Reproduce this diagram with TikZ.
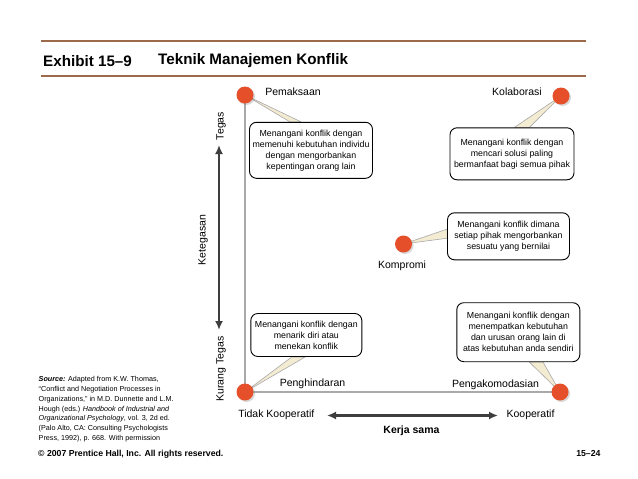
\documentclass[tikz,border=0pt]{standalone}
\usepackage{fontspec}
\setmainfont{Liberation Sans}
\usetikzlibrary{arrows.meta, shadows, calc, backgrounds}
\definecolor{rule-brown}{HTML}{9C6A48}
\definecolor{dot-red}{HTML}{E5502B}
\definecolor{axis-gray}{HTML}{A9A9A9}
\definecolor{arrow-dark}{HTML}{3E3E3E}
\definecolor{wedge-beige}{HTML}{F3EBD2}

\begin{document}
\begin{tikzpicture}[
    x=1pt, y=-1pt,
    dot/.style={circle, fill=dot-red, minimum size=17pt, inner sep=0pt, drop shadow={opacity=0.3, shadow xshift=1.5pt, shadow yshift=-1.5pt}},
    callout/.style={draw, line width=0.9pt, fill=white, rounded corners=7pt, align=center, inner sep=1pt, font=\fontsize{8.8}{11}\selectfont},
    lbl/.style={inner sep=1pt, font=\fontsize{10.5}{12}\selectfont},
    wedge/.style={fill=wedge-beige, draw=axis-gray, line width=0.6pt, line join=round},
    axisline/.style={draw=axis-gray, line width=2.2pt},
    scale-arrow/.style={{Latex[length=9pt, width=8pt]}-{Latex[length=9pt, width=8pt]}, line width=2.4pt, arrow-dark}
]
    \useasboundingbox (0,0) rectangle (638,479);

    % title
    \draw[rule-brown, line width=1.6pt] (41,40.8) -- (586,40.8);
    \draw[rule-brown, line width=1.6pt] (41,75.7) -- (586,75.7);
    \node[anchor=west, inner sep=0pt, font=\fontsize{15.2}{18}\selectfont\bfseries] (exhibit) at (43,61) {Exhibit 15–9};
    \node[anchor=west, inner sep=0pt, font=\fontsize{15.2}{18}\selectfont\bfseries] (judul) at (158,61) {Teknik Manajemen Konflik};

    % styles of conflict
    \node[dot] (paksa) at (245,95) {};
    \node[dot] (kolab) at (561,96) {};
    \node[dot] (kompro) at (403.5,244) {};
    \node[dot] (hindar) at (245,392) {};
    \node[dot] (akomo) at (560,392) {};

    \node[lbl] (paksalbl) at (293,91.7) {Pemaksaan};
    \node[lbl] (kolablbl) at (517,91.7) {Kolaborasi};
    \node[lbl] (komprolbl) at (402,266) {Kompromi};
    \node[lbl] (hindarlbl) at (312.5,384) {Penghindaran};
    \node[lbl] (akomolbl) at (495.5,384.3) {Pengakomodasian};

    \node[callout, minimum width=123pt, minimum height=56pt] (paksabox) at (311,150.3)
        {Menangani konflik dengan\\memenuhi kebutuhan individu\\dengan mengorbankan\\kepentingan orang lain};
    \node[callout, minimum width=124pt, minimum height=52pt] (kolabbox) at (512,153.8)
        {Menangani konflik dengan\\mencari solusi paling\\bermanfaat bagi semua pihak};
    \node[callout, minimum width=122pt, minimum height=47pt] (komprobox) at (508.5,236.3)
        {Menangani konflik dimana\\setiap pihak mengorbankan\\sesuatu yang bernilai};
    \node[callout, minimum width=111pt, minimum height=43pt] (hindarbox) at (306.3,335)
        {Menangani konflik dengan\\menarik diri atau\\menekan konflik};
    \node[callout, minimum width=123pt, minimum height=59pt] (akomobox) at (518.3,332.2)
        {Menangani konflik dengan\\menempatkan kebutuhan\\dan urusan orang lain di\\atas kebutuhan anda sendiri};

    \begin{scope}[on background layer]
        \fill[white] (0,0) rectangle (638,479);
        \draw[axisline] (paksa.center) -- (hindar.center) -- (akomo.center);
        \draw[wedge] (paksa.center) -- ($(paksabox.north west)!0.33!(paksabox.north east)$) -- ($(paksabox.north west)!0.42!(paksabox.north east)$) -- cycle;
        \draw[wedge] (kolab.center) -- ($(kolabbox.north west)!0.52!(kolabbox.north east)$) -- ($(kolabbox.north west)!0.64!(kolabbox.north east)$) -- cycle;
        \draw[wedge] (kompro.center) -- ($(komprobox.north west)!0.35!(komprobox.south west)$) -- ($(komprobox.north west)!0.54!(komprobox.south west)$) -- cycle;
        \draw[wedge] (hindar.center) -- ($(hindarbox.south west)!0.37!(hindarbox.south east)$) -- ($(hindarbox.south west)!0.49!(hindarbox.south east)$) -- cycle;
        \draw[wedge] (akomo.center) -- ($(akomobox.south west)!0.59!(akomobox.south east)$) -- ($(akomobox.south west)!0.70!(akomobox.south east)$) -- cycle;
    \end{scope}

    % axes
    \node[lbl, rotate=90] (tegas) at (221,126) {Tegas};
    \node[lbl, rotate=90] (ketegasan) at (203,240) {Ketegasan};
    \node[lbl, rotate=90] (kurang) at (221,369) {Kurang Tegas};
    \coordinate (vtop) at (219,145);
    \coordinate (vbot) at (219,330);
    \draw[scale-arrow] (vtop) -- (vbot);

    \node[lbl] (tidak) at (276.3,415) {Tidak Kooperatif};
    \node[lbl] (koop) at (530.5,414.5) {Kooperatif};
    \node[lbl, font=\fontsize{10.5}{12}\selectfont\bfseries] (kerja) at (411.5,430.7) {Kerja sama};
    \coordinate (hleft) at (327,415.5);
    \coordinate (hright) at (498,415.5);
    \draw[scale-arrow] (hleft) -- (hright);

    % footer
    \node[anchor=north west, align=left, inner sep=0pt, font=\fontsize{7.2}{9.7}\selectfont] (sumber) at (38.5,376.5)
        {\textbf{\textit{Source:}} Adapted from K.W. Thomas,\\
         “Conflict and Negotiation Processes in\\
         Organizations,” in M.D. Dunnette and L.M.\\
         Hough (eds.) \textit{Handbook of Industrial and}\\
         \textit{Organizational Psychology}, vol. 3, 2d ed.\\
         (Palo Alto, CA: Consulting Psychologists\\
         Press, 1992), p. 668. With permission};
    \node[anchor=west, inner sep=0pt, font=\fontsize{8.7}{10}\selectfont\bfseries] (hakcipta) at (38,454) {© 2007 Prentice Hall, Inc. All rights reserved.};
    \node[anchor=east, inner sep=0pt, font=\fontsize{8.7}{10}\selectfont\bfseries] (halaman) at (600.7,453.5) {15–24};
\end{tikzpicture}
\end{document}
